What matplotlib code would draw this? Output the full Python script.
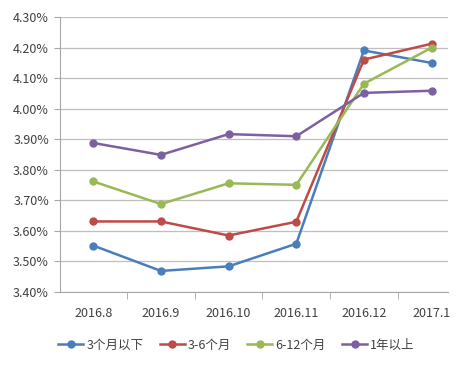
import numpy as np
import matplotlib
matplotlib.use("Agg")
import matplotlib.pyplot as plt
from matplotlib.ticker import FuncFormatter, FixedLocator

plt.rcParams['font.family'] = ['Noto Sans CJK SC', 'DejaVu Sans']

months = ["2016.8", "2016.9", "2016.10", "2016.11", "2016.12", "2017.1"]
series_names = ["3个月以下", "3-6个月", "6-12个月", "1年以上"]
below_3m = [3.552, 3.469, 3.484, 3.558, 4.191, 4.150]
m3_6 = [3.631, 3.631, 3.585, 3.630, 4.161, 4.213]
m6_12 = [3.762, 3.688, 3.756, 3.751, 4.082, 4.200]
over_1y = [3.888, 3.849, 3.917, 3.910, 4.052, 4.059]
colors = ["#4A7EBB", "#BE4B48", "#98B954", "#7D60A0"]

fig = plt.figure(figsize=(4.66, 3.65), dpi=100)
ax = fig.add_axes([0.129, 0.2, 0.832, 0.753])

x = np.arange(len(months))
for vals, name, c in zip([below_3m, m3_6, m6_12, over_1y], series_names, colors):
    ax.plot(x, vals, color=c, linewidth=1.8, marker="o", markersize=5, label=name)

ax.set_ylim(3.40, 4.30)
ax.set_yticks(np.arange(3.40, 4.301, 0.10))
ax.yaxis.set_major_formatter(FuncFormatter(lambda v, p: f"{v:.2f}%"))
ax.set_xlim(-0.49, 5.24)
ax.set_xticks(x)
ax.set_xticklabels(months)
ax.xaxis.set_minor_locator(FixedLocator(x[1:] - 0.5))

ax.grid(axis="y", color="#BFBFBF", linewidth=0.9)
ax.set_axisbelow(True)
for s in ["top", "right"]:
    ax.spines[s].set_visible(False)
for s in ["left", "bottom"]:
    ax.spines[s].set_color("#A6A6A6")
ax.tick_params(axis="y", length=4, color="#A6A6A6", labelsize=9, labelcolor="#404040", pad=4)
ax.tick_params(axis="x", which="major", length=0, labelsize=9, labelcolor="#404040", pad=11)
ax.tick_params(axis="x", which="minor", length=5, color="#A6A6A6")

ax.legend(loc="upper left", bbox_to_anchor=(-0.005, -0.17), ncol=4, frameon=False,
          fontsize=9, handlelength=2.0, columnspacing=1.3, handletextpad=0.25,
          borderaxespad=0, borderpad=0, labelcolor="#404040")

fig.savefig("out.png", dpi=100)
